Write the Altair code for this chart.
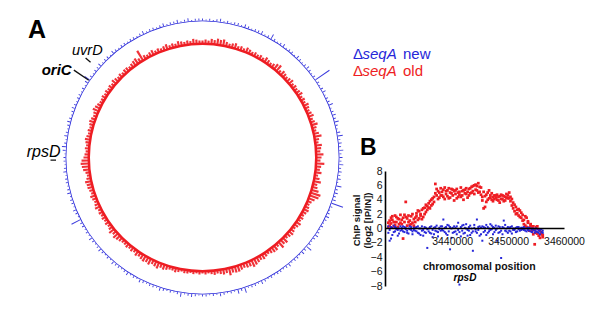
import altair as alt
import pandas as pd

FONT = "Liberation Sans"
RED = "#ee1d23"
BLUE = "#2626d9"
INK = "#111111"

# ---------------- panel A: circular genome map (bins of 1.5 deg, clockwise from top)
red_ring = [
    3, 4, 3, 5, 4, 6, 5, 6, 4, 3, 4, 5, 3, 4, 3, 5, 4, 3, 4, 3,
    4, 3, 5, 4, 3, 4, 6, 7, 3, 5, 4, 3, 4, 5, 3, 4, 3, 4, 5, 3,
    4, 3, 5, 4, 3, 4, 5, 3, 4, 6, 4, 3, 5, 7, 4, 3, 6, 5, 4, 7,
    5, 4, 8, 5, 4, 6, 3, 5, 7, 4, 5, 7, 10, 9, 6, 4, 3, 4, 5, 4,
    3, 4, 3, 5, 4, 3, 4, 5, 4, 3, 6, 5, 7, 3, 5, 5, 4, 3, 4, 5,
    4, 5, 6, 7, 5, 5, 4, 5, 6, 6, 5, 7, 4, 5, 4, 3, 4, 3, 2, 3,
    2, 3, 2, 3, 2, 3, 3, 2, 3, 4, 3, 3, 4, 5, 4, 6, 5, 4, 6, 5,
    6, 5, 4, 5, 3, 4, 3, 4, 3, 3, 4, 5, 6, 4, 6, 4, 3, 4, 3, 4,
    3, 4, 3, 5, 4, 3, 4, 5, 3, 4, 5, 5, 6, 4, 3, 4, 6, 7, 8, 7,
    5, 4, 3, 4, 3, 4, 5, 4, 3, 4, 3, 4, 5, 4, 3, 4, 6, 5, 4, 3,
    3, 4, 3, 4, 3, 4, 3, 5, 4, 3, 4, 3, 4, 4, 3, 4, 5, 6, 4, 11,
    4, 3, 4, 5, 3, 4, 3, 4, 5, 3, 4, 3, 5, 4, 3, 4, 3, 5, 4, 3,
]
blue_ring = [
    2, 1, 2, 1, 2, 3, 1, 2, 1, 2, 2, 1, 3, 2, 1, 2, 2, 3, 1, 2,
    5, 2, 1, 2, 3, 1, 2, 2, 1, 3, 2, 1, 2, 3, 2, 1, 2, 17, 2, 1,
    2, 3, 1, 2, 2, 4, 1, 2, 3, 2, 4, 2, 1, 3, 5, 2, 3, 2, 4, 2,
    3, 2, 4, 2, 3, 2, 3, 1, 5, 2, 3, 2, 3, 12, 2, 1, 2, 3, 2, 1,
    2, 1, 2, 3, 2, 1, 2, 6, 2, 3, 1, 2, 2, 1, 3, 2, 1, 2, 2, 1,
    2, 1, 2, 3, 1, 2, 2, 1, 5, 2, 4, 1, 2, 1, 2, 3, 1, 2, 1, 2,
    2, 1, 2, 3, 2, 1, 4, 2, 1, 2, 1, 2, 3, 1, 2, 2, 1, 2, 3, 1,
    2, 1, 3, 2, 1, 2, 2, 3, 1, 2, 1, 2, 3, 2, 1, 2, 3, 1, 2, 1,
    2, 2, 10, 1, 2, 3, 1, 2, 2, 1, 3, 2, 1, 2, 2, 1, 3, 2, 1, 2,
    2, 1, 3, 4, 2, 1, 3, 2, 1, 2, 3, 2, 1, 2, 3, 2, 1, 2, 2, 1,
    2, 1, 3, 6, 2, 1, 2, 2, 3, 1, 2, 2, 1, 3, 2, 1, 2, 2, 1, 2,
    2, 1, 2, 3, 1, 2, 2, 1, 2, 3, 1, 2, 2, 3, 1, 2, 3, 1, 2, 2,
]
gene_names = ["oriC", "uvrD", "rpsD"]
gene_angle_deg = [304.2, 310.4, 269.0]
panel_labels = ["A", "B"]
legend_delta = "\u0394"
legend_gene = "seqA"
legend_labels = ["new", "old"]

# ---------------- panel B: ChIP signal around rpsD
probe_kb = [
    3428.60, 3428.83, 3429.08, 3429.31, 3429.56, 3429.80, 3430.03, 3430.28, 3430.51, 3430.76,
    3431.00, 3431.23, 3431.48, 3431.71, 3431.96, 3432.20, 3432.43, 3432.68, 3432.91, 3433.16,
    3433.40, 3433.63, 3433.88, 3434.11, 3434.36, 3434.60, 3434.83, 3435.08, 3435.31, 3435.56,
    3435.80, 3436.03, 3436.28, 3436.51, 3436.76, 3437.00, 3437.23, 3437.48, 3437.71, 3437.96,
    3438.20, 3438.43, 3438.68, 3438.91, 3439.16, 3439.40, 3439.63, 3439.88, 3440.11, 3440.36,
    3440.60, 3440.83, 3441.08, 3441.31, 3441.56, 3441.80, 3442.03, 3442.28, 3442.51, 3442.76,
    3443.00, 3443.23, 3443.48, 3443.71, 3443.96, 3444.20, 3444.43, 3444.68, 3444.91, 3445.16,
    3445.40, 3445.63, 3445.88, 3446.11, 3446.36, 3446.60, 3446.83, 3447.08, 3447.31, 3447.56,
    3447.80, 3448.03, 3448.28, 3448.51, 3448.76, 3449.00, 3449.23, 3449.48, 3449.71, 3449.96,
    3450.20, 3450.43, 3450.68, 3450.91, 3451.16, 3451.40, 3451.63, 3451.88, 3452.11, 3452.36,
    3452.60, 3452.83, 3453.08, 3453.31, 3453.56, 3453.80, 3454.03, 3454.28, 3454.51, 3454.76,
    3455.00, 3455.23, 3455.48, 3455.71, 3455.96, 3456.20,
]
red_a = [
    0.8, 0.4, 1.5, 1.2, 0.3, 1.8, 0.9, 1.4, 0.6, 1.9,
    1.2, -1.4, 0.9, 1.6, 0.4, 1.8, 1.1, 0.6, 2.0, 1.3,
    1.5, 2.1, 1.2, 2.4, 1.8, 2.6, 1.6, 2.9, 2.3, 3.1,
    3.5, 2.8, 4.0, 3.4, 4.4, 6.2, 4.6, 5.2, 4.3, 5.6,
    5.1, 4.4, 5.7, 4.8, 5.3, 4.2, 5.0, 5.5, 4.6, 5.2,
    4.8, 5.5, 4.4, 5.1, 5.7, 4.6, 5.3, 4.9, 5.6, 4.3,
    5.5, 4.9, 5.8, 5.2, 6.0, 5.4, 5.9, 6.3, 5.1, 5.7,
    4.4, 5.1, 3.0, 4.7, 4.0, 5.3, 4.3, 4.9, 3.8, 4.6,
    4.3, 4.7, 3.9, 4.5, 4.1, 4.6, 3.8, 4.4, 4.8, 4.2,
    5.0, 4.4, 3.2, 3.6, 2.4, 3.0, 2.1, 2.7, 1.6, 2.2,
    1.9, 1.2, 0.4, 1.5, 0.8, 0.1, 0.6, -0.4, 0.3, -2.2,
    -0.6, 0.3, -1.0, -0.3, -0.8, -1.2,
]
red_b = [
    0.2, 1.1, 0.7, 1.7, 0.9, 0.5, 1.6, 0.2, 1.3, 0.8,
    0.6, 1.5, 1.9, 3.7, 1.4, 0.9, 0.5, 1.7, 0.8, 0.4,
    0.9, 1.7, 2.5, 1.4, 2.0, 1.3, 2.8, 2.0, 3.3, 2.6,
    2.9, 3.8, 3.2, 4.2, 3.7, 4.9, 5.5, 4.1, 5.0, 4.6,
    4.6, 5.4, 4.1, 5.2, 4.5, 5.6, 4.3, 4.9, 5.4, 3.9,
    5.3, 4.2, 5.0, 4.7, 4.4, 5.2, 4.0, 5.4, 4.8, 5.1,
    4.6, 5.6, 5.0, 5.9, 4.8, 6.1, 5.3, 5.0, 5.8, 4.7,
    3.9, 2.8, 4.5, 3.7, 5.0, 4.2, 4.6, 4.0, 4.4, 4.1,
    4.6, 4.0, 4.4, 3.6, 4.7, 4.1, 4.5, 3.9, 4.3, 4.6,
    4.2, 3.8, 4.1, 2.8, 3.3, 2.0, 2.6, 1.8, 2.5, 1.5,
    1.1, 0.6, 1.7, 0.2, 1.0, -0.3, 0.4, 0.1, -0.8, -0.2,
    0.2, -0.7, -0.1, -1.3, -0.5, -0.9,
]
blue_a = [
    0.3, -0.2, -1.4, 0.1, -0.5, 0.2, -0.1, -1.0, 0.0, -0.3,
    0.1, -0.4, 0.2, -0.1, -0.6, 0.0, 0.3, -0.2, -0.8, 0.1,
    -0.3, 0.2, -0.6, 0.0, -0.9, 0.3, -0.2, -0.5, 0.1, -2.7,
    -0.4, 0.2, -0.7, -1.2, 0.1, -0.3, 0.4, -0.5, -0.1, 0.3,
    -0.2, 1.25, -0.5, 0.2, -0.9, 0.4, -2.9, 0.0, -0.6, 0.3,
    0.1, -0.8, 0.8, -7.8, 0.2, -0.3, 0.5, -0.6, 0.0, -1.0,
    -0.3, 0.4, -0.6, -3.1, 0.1, -0.4, 1.25, -0.2, 0.3, -0.8,
    -1.7, 0.2, -0.3, 0.5, -0.6, 0.0, -0.2, 0.4, -0.8, 0.1,
    -0.2, -1.7, 0.3, -0.5, -4.1, 0.2, 1.1, -0.3, 0.0, -0.6,
    0.1, -0.4, 0.3, -0.2, 0.0, -0.5, 0.2, -0.1, -0.3, 0.1,
    -0.1, 0.2, -0.3, 0.0, -0.2, 0.1, -0.4, -0.1, 0.0, -0.3,
    -0.4, -0.1, -0.6, -0.2, -0.5, -0.3,
]
blue_b = [
    -0.6, -1.7, 0.2, -0.9, 0.4, -0.4, 0.1, -0.2, -0.7, 0.3,
    -0.2, 0.3, -0.5, 0.1, -0.3, -0.7, -0.1, 0.2, -0.4, -0.2,
    0.1, -0.4, 0.3, -0.7, 0.0, -0.3, -1.0, 0.2, -0.6, -0.1,
    0.0, -0.6, 0.3, -0.2, -0.8, 0.2, -0.4, -1.1, 0.1, -0.3,
    0.3, -0.3, 0.1, -0.7, 0.5, -0.4, 0.2, -1.3, 0.1, -0.5,
    -0.4, 0.3, -0.2, -0.5, -1.1, 0.4, -0.7, 0.1, 0.6, -0.2,
    0.2, -0.9, 0.0, -0.4, 0.5, -0.1, -0.6, 0.2, -1.0, 0.1,
    0.3, -0.5, 0.1, -0.9, 0.2, -0.4, 0.6, -0.1, 0.2, -0.5,
    0.4, 0.0, -0.6, 0.2, -0.3, -0.8, 0.1, 0.5, -0.4, 0.2,
    -0.3, 0.2, -0.7, 0.0, -0.2, 0.1, -0.4, 0.2, 0.0, -0.2,
    0.1, -0.2, 0.0, -0.4, 0.1, -0.3, 0.0, -0.5, -0.2, -0.6,
    0.0, -0.5, -0.3, -0.8, -0.1, -0.6,
]
x_tick_values = [3440000, 3450000, 3460000]
y_tick_values = [-8, -6, -4, -2, 0, 2, 4, 6, 8]
x_title = "chromosomal position"
y_title = ["ChIP signal", "(log2 [IP/IN])"]

# ---------------- layout
W, H = 584, 296
CX, CY = 194.5, 149.5
theta_scale = alt.Scale(domain=[0, 360], range=[0, 6.283185307179586])


def one(text):
    return pd.DataFrame({"t": [text]})


def label(text, x, y, size, weight="normal", style="normal", color="#000000", align="left"):
    return (
        alt.Chart(one(text))
        .mark_text(x=x, y=y, fontSize=size, fontWeight=weight, fontStyle=style,
                   font=FONT, color=color, align=align, baseline="alphabetic")
        .encode(text="t:N")
    )


def base_ring(r_in, r_out, color):
    return (
        alt.Chart(one("ring"))
        .mark_arc(theta=0, theta2=6.2832, radius=r_out, radius2=r_in, color=color)
        .encode(x=alt.value(CX), y=alt.value(CY))
    )


def spikes(vals, r0, width_deg, color, px_per_unit=1.0, opacity=1.0):
    step = 360.0 / len(vals)
    df = pd.DataFrame({"bin": list(range(len(vals))), "v": vals})
    return (
        alt.Chart(df)
        .transform_calculate(
            a0=f"datum.bin * {step} - {width_deg / 2}",
            a1=f"datum.bin * {step} + {width_deg / 2}",
        )
        .mark_arc(color=color, opacity=opacity)
        .encode(
            theta=alt.Theta("a0:Q", scale=theta_scale, stack=False),
            theta2="a1:Q",
            radius=alt.Radius("v:Q", scale=alt.Scale(type="linear", domain=[0, 20],
                                                      range=[r0, r0 + 20 * px_per_unit])),
            radius2=alt.Radius2Datum(0),
            x=alt.value(CX),
            y=alt.value(CY),
        )
    )


gene_df = pd.DataFrame({"gene": gene_names, "angle": gene_angle_deg})
tick_radii = {"oriC": (137.5, 155.5), "uvrD": (147.0, 153.5), "rpsD": (146.5, 152.0)}


def gene_tick(name):
    r_in, r_out = tick_radii[name]
    return (
        alt.Chart(gene_df)
        .transform_filter(alt.datum.gene == name)
        .transform_calculate(a0="datum.angle - 0.25", a1="datum.angle + 0.25")
        .mark_arc(radius=r_out, radius2=r_in, color=INK)
        .encode(
            theta=alt.Theta("a0:Q", scale=theta_scale, stack=False),
            theta2="a1:Q",
            x=alt.value(CX),
            y=alt.value(CY),
        )
    )


red_layers = [base_ring(112.5, 115.0, RED), spikes(red_ring, 114.0, 1.05, RED, 1.0, 0.9)]
blue_layers = [base_ring(136.2, 137.0, BLUE), spikes(blue_ring, 137.0, 0.38, BLUE, 1.0, 0.9)]
tick_layers = [gene_tick(g) for g in gene_names]

# ---------------- panel B scatter
pos_bp = [round(k * 1000) for k in probe_kb]
red_df = pd.DataFrame({"pos": pos_bp + pos_bp, "val": red_a + red_b})
blue_df = pd.DataFrame({"pos": pos_bp + pos_bp, "val": blue_a + blue_b})

xs = alt.Scale(domain=[3428000, 3460000], range=[377, 556], nice=False, zero=False)
ys = alt.Scale(domain=[-8, 8], range=[278, 163], nice=False, zero=False)

x_axis = alt.Axis(
    values=x_tick_values, format="d", offset=-76, ticks=False, tickSize=0, labelPadding=8,
    labelFlush=False, labelOverlap=False, labelFont=FONT, labelFontSize=10.5, labelColor=INK,
    domainColor="#000000", domainWidth=1.6, grid=False,
    title=x_title, titleFont=FONT, titleFontSize=10.5, titleFontWeight="bold", titleColor=INK,
    titleX=470.8, titleY=41.0, titleBaseline="alphabetic", titleAlign="center", zindex=1,
)
y_axis = alt.Axis(
    values=y_tick_values, offset=-377, ticks=False, tickSize=0, labelPadding=3,
    labelFont=FONT, labelFontSize=10.5, labelColor=INK, labelOverlap=False,
    domainColor="#000000", domainWidth=1.6, grid=False,
    title=y_title, titleFont=FONT, titleFontSize=9.5, titleFontWeight="bold", titleColor=INK,
    titleX=-29, titleY=212, titleAngle=270, titleAlign="center", titleBaseline="middle",
    titleLineHeight=11.5, zindex=1,
)

red_pts = alt.Chart(red_df).mark_square(size=7.5, color=RED, opacity=1).encode(
    x=alt.X("pos:Q", scale=xs, axis=x_axis),
    y=alt.Y("val:Q", scale=ys, axis=y_axis),
)
blue_pts = alt.Chart(blue_df).mark_square(size=4, color=BLUE, opacity=1).encode(
    x=alt.X("pos:Q", scale=xs, axis=x_axis),
    y=alt.Y("val:Q", scale=ys, axis=y_axis),
)

# ---------------- texts
texts = [
    label(panel_labels[0], 20, 30.3, 25, weight="bold"),
    label(panel_labels[1], 352, 147, 23, weight="bold"),
    label(gene_names[1], 64, 47, 14.5, style="italic"),
    label(gene_names[0], 33.7, 67.3, 15, weight="bold", style="italic"),
    label(gene_names[2], 18.7, 148.7, 16, style="italic"),
    label(legend_delta, 345, 51.3, 15, color=BLUE),
    label(legend_gene, 354.5, 51.3, 15, style="italic", color=BLUE),
    label(legend_labels[0], 395, 51.3, 15, color=BLUE),
    label(legend_delta, 345, 68, 15, color=RED),
    label(legend_gene, 354.5, 68, 15, style="italic", color=RED),
    label(legend_labels[1], 395, 68, 15, color=RED),
    label(gene_names[2], 457, 272.5, 10, weight="bold", style="italic", align="center"),
]

chart = (
    alt.layer(*red_layers, *blue_layers, *tick_layers, red_pts, blue_pts, *texts)
    .resolve_scale(radius="independent")
    .properties(width=W, height=H, autosize=alt.AutoSizeParams(type="none"), padding=0,
                background="white")
    .configure_view(strokeWidth=0)
)

chart.save("out.html", embed_options={"renderer": "svg", "actions": False})
